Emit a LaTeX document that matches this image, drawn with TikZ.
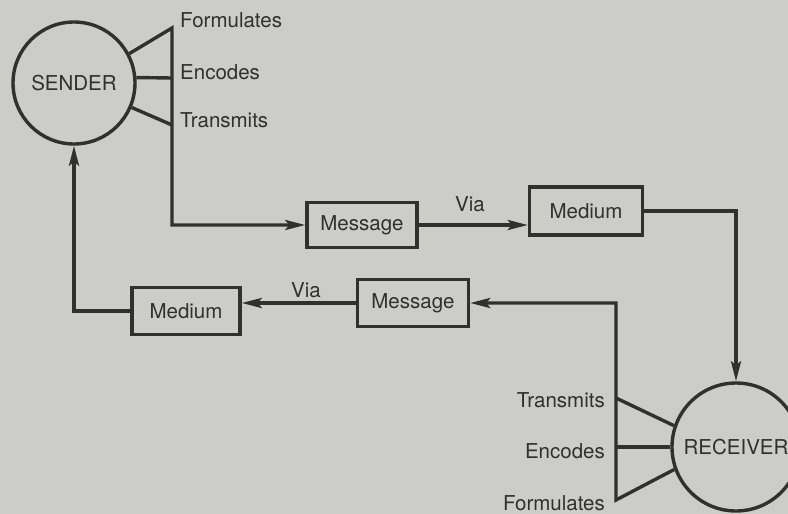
\documentclass[tikz,border=0pt]{standalone}
\usepackage{fontspec}
\setmainfont{TeX Gyre Heros}
\usetikzlibrary{arrows.meta}
\definecolor{bg}{RGB}{204,205,200}
\definecolor{ink}{RGB}{48,48,46}
\begin{document}
\begin{tikzpicture}[x=1pt,y=-1pt,
  every node/.style={font=\fontsize{20.5}{24}\selectfont, text=ink},
  line/.style={draw=ink, line width=3.4pt},
  arr/.style={line, -{Stealth[length=20pt,width=10pt,inset=4pt]}},
  circ/.style={circle, draw=ink, line width=3.4pt, inner sep=0pt},
  box/.style={rectangle, draw=ink, line width=3.4pt, inner sep=0pt},
  lab/.style={inner sep=0pt}]
\fill[bg] (0,0) rectangle (788,514);
\useasboundingbox (0,0) rectangle (788,514);

% nodes
\node[circ, minimum size=122pt] (sender) at (74,83) {SENDER};
\node[circ, minimum size=128pt] (receiver) at (736,447) {RECEIVER};
\node[box, minimum width=110pt, minimum height=45pt] (msg1) at (362,225) {Message};
\node[box, minimum width=113pt, minimum height=48pt] (med1) at (586,211) {Medium};
\node[box, minimum width=111pt, minimum height=47pt] (msg2) at (413,303) {Message};
\node[box, minimum width=108pt, minimum height=47pt] (med2) at (186,311) {Medium};

% sender side
\coordinate (sa) at (172,28);
\coordinate (sb) at (172,78);
\coordinate (sc) at (172,125);
\coordinate (sd) at (172,225);
\node[lab, anchor=west] (lf1) at (180,20) {Formulates};
\node[lab, anchor=west] (le1) at (180,72) {Encodes};
\node[lab, anchor=west] (lt1) at (180,120) {Transmits};
\draw[arr] (sender.28) -- (sa) -- (sd) -- (msg1.west);
\draw[line] (sender.5) -- (sb);
\draw[line] (sender.-23) -- (sc);

% top row
\draw[arr] (msg1.east) -- (msg1.east -| med1.west);
\node[lab] (via1) at (470,204) {Via};
\draw[arr] (med1.east) -- (med1.east -| receiver.north) -- (receiver.north);

% receiver side
\coordinate (ra) at (616,398);
\coordinate (rb) at (616,447);
\coordinate (rc) at (616,500);
\coordinate (rt) at (616,303);
\node[lab, anchor=east] (lt2) at (605,400) {Transmits};
\node[lab, anchor=east] (le2) at (605,451) {Encodes};
\node[lab, anchor=east] (lf2) at (605,503) {Formulates};
\draw[arr] (receiver.200) -- (rc) -- (rt) -- (msg2.east);
\draw[line] (receiver.161) -- (ra);
\draw[line] (receiver.west) -- (rb);

% bottom row
\draw[arr] (msg2.west) -- (msg2.west -| med2.east);
\node[lab] (via2) at (306,290) {Via};
\draw[arr] (med2.west) -- (med2.west -| sender.south) -- (sender.south);
\end{tikzpicture}
\end{document}
